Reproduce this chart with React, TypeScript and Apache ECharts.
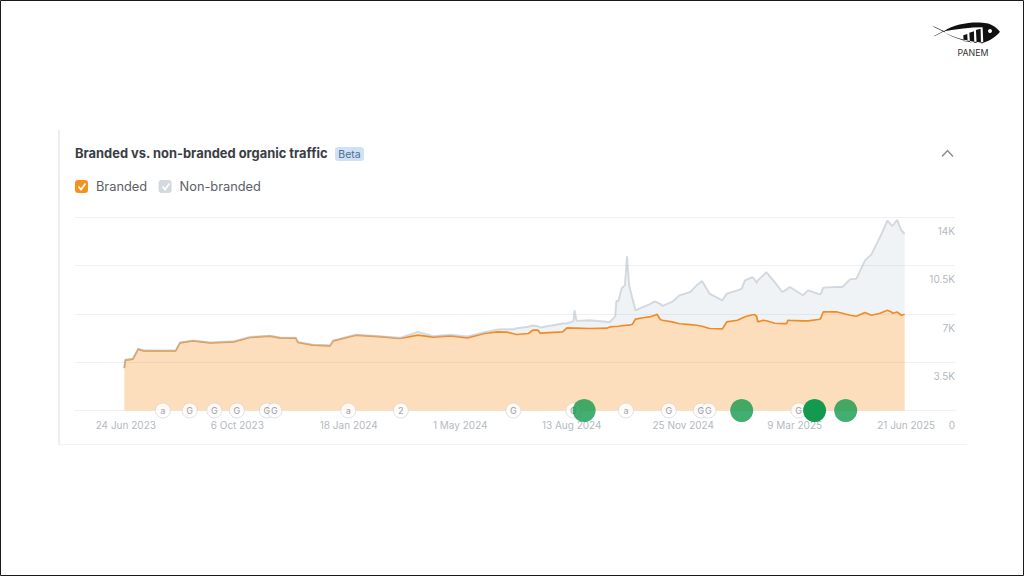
import React, { useEffect, useRef } from 'react';
import * as echarts from 'echarts';

const FONT = 'Inter, "Noto Sans", sans-serif';
const START = Date.UTC(2023, 5, 24);
const DAY = 86400000;
const PAD_BEFORE = 46;
const PAD_AFTER = 47;

// days since 24 Jun 2023
const days = [
  0, 1, 8, 13, 18, 34, 48, 52, 64, 80, 102, 117, 136, 145, 160, 162, 176, 192, 195, 216, 241, 257, 274, 288, 304, 320,
  336, 348, 357, 363, 366, 377, 381, 386, 388, 409, 413, 419, 420, 422, 434, 450, 453, 458, 459, 461, 464, 467, 469,
  471, 474, 477, 484, 490, 495, 497, 500, 502, 511, 518, 528, 534, 539, 546, 558, 562, 572, 576, 579, 586, 588, 590,
  591, 596, 599, 607, 614, 618, 619, 621, 633, 638, 649, 650, 652, 665, 670, 677, 683, 691, 697, 705, 712, 716, 717,
  721, 725, 728,
];
const branded = [
  3067, 3644, 3716, 4438, 4315, 4308, 4315, 4892, 5037, 4892, 4965, 5282, 5376, 5253, 5232, 4921, 4726, 4676, 5037,
  5448, 5325, 5210, 5448, 5304, 5398, 5253, 5571, 5686, 5665, 5556, 5499, 5571, 5809, 5809, 5592, 5686, 5975, 5953,
  5953, 5953, 5932, 5953, 6047, 6076, 6076, 6098, 6134, 6155, 6170, 6170, 6242, 6617, 6711, 6769, 6891, 6963, 6581,
  6531, 6408, 6278, 6220, 6170, 6098, 5932, 5903, 6408, 6531, 6675, 6783, 6927, 6942, 6819, 6408, 6531, 6494, 6314,
  6292, 6292, 6531, 6516, 6487, 6480, 6603, 6725, 7129, 7129, 7036, 6891, 6819, 7086, 6891, 7036, 7252, 7108, 7036,
  7129, 6891, 6963,
];
const nonBranded = [
  40, 40, 40, 40, 40, 40, 40, 40, 40, 40, 40, 40, 40, 40, 40, 40, 40, 40, 40, 40, 40, 50, 240, 80, 80, 100, 90, 170,
  220, 320, 450, 490, 340, 290, 410, 610, 340, 500, 1300, 530, 600, 470, 360, 740, 1847, 1825, 2706, 2900, 4979, 2886,
  1876, 635, 779, 916, 1010, 866, 1140, 1032, 1443, 2057, 2352, 2886, 3269, 2526, 2071, 2049, 2165, 2143, 2634, 2728,
  2547, 2403, 3009, 3247, 3521, 2959, 2280, 2475, 2309, 2417, 1847, 2215, 1804, 1753, 1761, 1818, 1898, 2598, 2720,
  3774, 4402, 5506, 6494, 6278, 6350, 6668, 6134, 5823,
];

const tickDates = ['2023-06-24', '2023-10-06', '2024-01-18', '2024-05-01', '2024-08-13', '2024-11-25', '2025-03-09', '2025-06-21'];
const tickLabels = ['24 Jun 2023', '6 Oct 2023', '18 Jan 2024', '1 May 2024', '13 Aug 2024', '25 Nov 2024', '9 Mar 2025', '21 Jun 2025'];
const yLabels = ['0', '3.5K', '7K', '10.5K', '14K'];

const noteDates = [
  '2023-07-30', '2023-08-24', '2023-09-16', '2023-10-07', '2023-11-04', '2023-11-11', '2024-01-19', '2024-03-08',
  '2024-06-21', '2024-08-16', '2024-10-04', '2024-11-13', '2024-12-13', '2024-12-20', '2025-03-14',
];
const noteLetters = ['a', 'G', 'G', 'G', 'G', 'G', 'a', '2', 'G', 'G', 'a', 'G', 'G', 'G', 'G'];
const greenDates = ['2024-08-26', '2025-01-20', '2025-03-29', '2025-04-27'];
const greenOpacity = [0.8, 0.8, 1, 0.8];

// one category per day, with empty room either side of the data
const isoOf = (d: number) => new Date(START + d * DAY).toISOString().slice(0, 10);
const axisDates: string[] = [];
for (let d = -PAD_BEFORE; d <= 728 + PAD_AFTER; d++) axisDates.push(isoOf(d));

echarts.graphic.registerShape(
  'panemFish',
  echarts.graphic.extendPath(
    'M72 64C105 40 165 34 200 40C220 44 232 56 240 65C230 78 212 92 190 98L188 52C150 52 110 58 72 64Z' +
      'M168 60L182 56L183 98L170 99Z M148 68L162 64L163 98L150 97Z M130 76L142 72L143 95L131 93Z' +
      'M72 66C100 85 150 100 190 100L190 97C150 97 100 83 72 66Z' +
      'M40 49L76 65L74 67L40 50Z M42 78L72 62L74 63L43 79Z',
    {}
  )
);

const App: React.FC = () => {
  const chartRef = useRef<HTMLDivElement>(null);

  useEffect(() => {
    if (!chartRef.current) return;
    const chart = echarts.init(chartRef.current, undefined, { renderer: 'svg' });

    chart.setOption({
      animation: false,
      backgroundColor: '#fff',
      textStyle: { fontFamily: FONT },
      grid: { left: 75, right: 69, top: 217, height: 193.5 },
      legend: {
        left: 75,
        top: 180,
        padding: 0,
        z: 1,
        icon: 'roundRect',
        itemWidth: 13,
        itemHeight: 13,
        itemGap: 11.5,
        selectedMode: false,
        textStyle: { fontFamily: FONT, fontSize: 12.8, color: '#5c6066', padding: [0, 0, 0, 3] },
        data: [
          { name: 'Branded', itemStyle: { color: '#F5921E' } },
          { name: 'Non-branded', itemStyle: { color: '#D3D9DF' } },
        ],
      },
      xAxis: {
        type: 'category',
        boundaryGap: false,
        data: axisDates,
        axisLine: { lineStyle: { color: '#EEF0F2' } },
        axisTick: { show: false },
        splitLine: { show: false },
        axisLabel: {
          interval: (_i: number, v: string) => tickDates.includes(v),
          margin: 9,
          fontSize: 10,
          color: '#B4B9BF',
          fontFamily: FONT,
          padding: [0, 0, 0, 3],
          hideOverlap: false,
          formatter: (v: string) => tickLabels[tickDates.indexOf(v)] ?? '',
        },
      },
      yAxis: {
        type: 'value',
        position: 'right',
        min: 0,
        max: 14000,
        interval: 3500,
        axisLine: { show: false },
        axisTick: { show: false },
        splitLine: { lineStyle: { color: '#EEF0F2' } },
        axisLabel: {
          inside: true,
          margin: 0,
          fontSize: 10,
          color: '#B4B9BF',
          fontFamily: FONT,
          verticalAlign: 'top',
          padding: [9, 0, 0, 0],
          formatter: (v: number) => yLabels[v / 3500],
        },
      },
      series: [
        {
          name: 'Branded',
          type: 'line',
          stack: 'traffic',
          symbol: 'none',
          lineStyle: { color: '#F08C28', width: 1.7 },
          itemStyle: { color: '#F5921E' },
          areaStyle: { color: 'rgba(250,150,40,0.44)' },
          data: days.map((d, i) => [isoOf(d), branded[i]]),
        },
        {
          name: 'Non-branded',
          type: 'line',
          stack: 'traffic',
          symbol: 'none',
          lineStyle: { color: 'rgba(185,195,205,0.6)', width: 1.9 },
          itemStyle: { color: '#D3D9DF' },
          areaStyle: { color: 'rgba(150,170,185,0.2)' },
          data: days.map((d, i) => [isoOf(d), nonBranded[i]]),
        },
        {
          name: 'Notes',
          type: 'scatter',
          clip: false,
          z: 5,
          symbolSize: 15,
          itemStyle: { color: '#fff', borderColor: '#D5D8DB', borderWidth: 1 },
          label: {
            show: true,
            position: 'inside',
            fontSize: 9,
            fontWeight: 500,
            color: '#8F9499',
            fontFamily: FONT,
            formatter: (p: any) => noteLetters[p.dataIndex],
          },
          data: noteDates.map((d) => [d, 0]),
        },
        {
          name: 'Updates',
          type: 'scatter',
          clip: false,
          z: 6,
          symbolSize: 23,
          data: greenDates.map((d, i) => ({
            value: [d, 0],
            itemStyle: { color: '#139A4E', opacity: greenOpacity[i] },
          })),
        },
      ],
      graphic: [
        // frame and card edges
        { type: 'rect', shape: { x: 0.5, y: 0.5, width: 1023, height: 575 }, style: { fill: 'none', stroke: '#1a1a1a', lineWidth: 1 }, silent: true },
        { type: 'line', shape: { x1: 59, y1: 130, x2: 59, y2: 445 }, style: { stroke: '#ECEEF0', lineWidth: 2 }, silent: true },
        { type: 'line', shape: { x1: 60, y1: 444.5, x2: 967, y2: 444.5 }, style: { stroke: '#F1F2F3', lineWidth: 1 }, silent: true },
        // heading
        { type: 'text', x: 75, y: 153, style: { text: 'Branded vs. non-branded organic traffic', font: `700 12.9px ${FONT}`, fill: '#3A3D45', verticalAlign: 'middle' } },
        { type: 'rect', shape: { x: 335, y: 147, width: 29, height: 14, r: 3 }, style: { fill: '#CFE2F5' } },
        { type: 'text', x: 349.5, y: 154.5, style: { text: 'Beta', font: `400 10.5px ${FONT}`, fill: '#4D6F90', align: 'center', verticalAlign: 'middle' } },
        { type: 'polyline', shape: { points: [[942, 156.5], [947.5, 150.5], [953, 156.5]] }, style: { stroke: '#8A8F95', lineWidth: 1.5, fill: 'none' } },
        // legend ticks
        { type: 'polyline', z: 10, shape: { points: [[78.5, 186.5], [81, 189.5], [85.5, 183.5]] }, style: { stroke: '#fff', lineWidth: 1.8, fill: 'none' } },
        { type: 'polyline', z: 10, shape: { points: [[162.5, 186.5], [165, 189.5], [169.5, 183.5]] }, style: { stroke: '#fff', lineWidth: 1.8, fill: 'none' } },
        // logo
        { type: 'panemFish', x: 920, y: 10, scaleX: 1 / 3, scaleY: 1 / 3, style: { fill: '#111' } },
        { type: 'circle', shape: { cx: 990, cy: 31, r: 2 }, style: { fill: '#fff' } },
        { type: 'text', x: 973, y: 52.5, style: { text: 'PANEM', font: `400 8.8px ${FONT}`, fill: '#333', align: 'center', verticalAlign: 'middle' } },
      ],
    });

    return () => chart.dispose();
  }, []);

  return <div ref={chartRef} style={{ position: 'fixed', left: 0, top: 0, width: 1024, height: 576 }} />;
};

export default App;
